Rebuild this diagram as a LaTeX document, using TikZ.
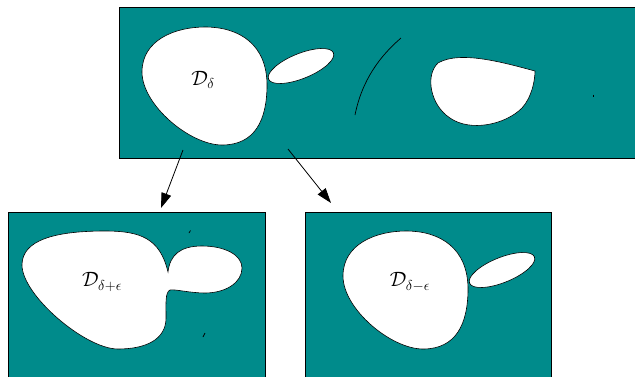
\documentclass[tikz,border=0pt]{standalone}
\usepackage{amsmath,amssymb}
\usepackage{tikz}
\usetikzlibrary{arrows.meta}
\definecolor{seagreen}{RGB}{0,139,139}

\begin{document}
\begin{tikzpicture}[x=1pt, y=-1pt,
  panel/.style={draw, line width=0.6pt, fill=seagreen, anchor=north west, inner sep=0pt},
  hole/.style={draw, fill=white, line width=0.6pt},
  crack/.style={line width=0.7pt},
  dlabel/.style={font=\huge, inner sep=0pt},
  flow/.style={-{Triangle[length=15pt, width=10pt]}, line width=0.8pt},
  domain/.pic={
    \draw[hole] (142,72) .. controls (142,40) and (175,27) .. (205,27) .. controls (240,27) and (267,45) .. (267,85) .. controls (267,120) and (255,145) .. (222,145) .. controls (190,145) and (142,105) .. (142,72) -- cycle;
    \draw[hole, rotate around={22:(301,66)}] (301,66) ellipse [x radius=35pt, y radius=12.5pt];
  }]
\clip (0,0) rectangle (635,376);
% the three panels
\node[panel, minimum width=516pt, minimum height=151pt] (topPanel) at (119,7) {};
\node[panel, minimum width=257pt, minimum height=180pt] (plusPanel) at (8,212) {};
\node[panel, minimum width=246pt, minimum height=180pt] (minusPanel) at (305,212) {};
% top panel
\pic at (0,0) {domain};
\draw[crack] (355,115) .. controls (362,80) and (380,56) .. (401,38);
\draw[hole] (535,71) .. controls (505,63) and (460,50) .. (438,63) .. controls (425,75) and (430,105) .. (450,118) .. controls (470,132) and (505,125) .. (522,108) .. controls (532,97) and (535,80) .. (535,71) -- cycle;
\draw[crack] (593,94.5) -- (593,97);
\node[dlabel] (dlab) at (203,80) {$\mathcal{D}_\delta$};
% left panel
\draw[hole] (168,272) .. controls (170,255) and (180,246) .. (202,246) .. controls (225,246) and (242,255) .. (242,268) .. controls (242,283) and (225,293) .. (205,293) .. controls (190,293) and (175,289) .. (170,290) .. controls (165,292) and (166,305) .. (166,318) .. controls (166,340) and (145,349) .. (118,349) .. controls (85,349) and (22,295) .. (22,265) .. controls (22,240) and (55,231) .. (105,231) .. controls (140,231) and (160,238) .. (168,272) -- cycle;
\draw[crack] (189,233) -- (190.5,230.5);
\draw[crack] (203,337) -- (205,333);
\node[dlabel] (dplus) at (102,282) {$\mathcal{D}_{\delta+\epsilon}$};
% right panel
\pic at (201,204) {domain};
\node[dlabel] (dminus) at (410,282) {$\mathcal{D}_{\delta-\epsilon}$};
% arrows
\coordinate (plusStart) at (183,150);
\coordinate (plusEnd) at (161,208);
\coordinate (minusStart) at (288,149);
\coordinate (minusEnd) at (331,203);
\draw[flow] (plusStart) -- (plusEnd);
\draw[flow] (minusStart) -- (minusEnd);
\end{tikzpicture}
\end{document}
